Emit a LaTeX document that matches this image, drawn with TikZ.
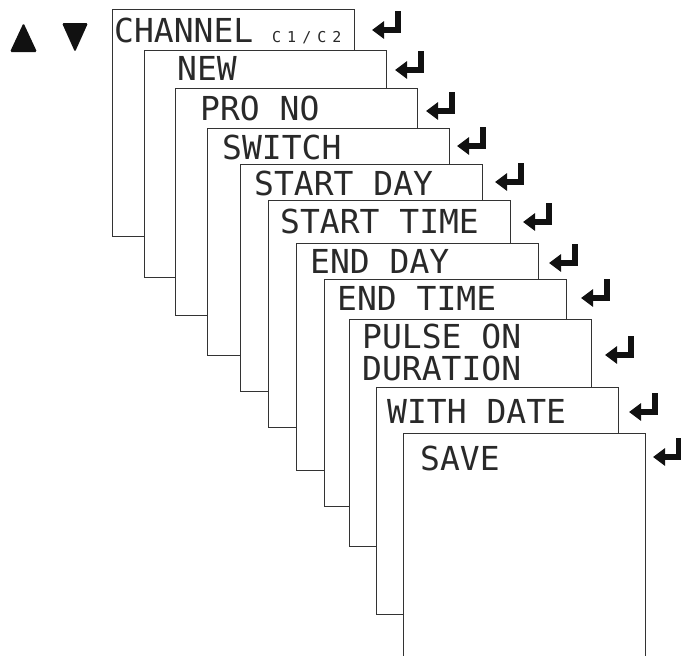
\documentclass[tikz,border=0pt]{standalone}
\usepackage{fontspec}
\usetikzlibrary{arrows.meta}
\newfontfamily\lcdfont{DejaVu Sans Mono}
\definecolor{frame}{HTML}{333333}
\definecolor{ink}{HTML}{111111}
\tikzset{
  panel/.style={draw=frame, line width=1.3pt, fill=white, anchor=north west, minimum width=242pt, minimum height=227pt, inner sep=0pt},
  lcd/.style={anchor=base west, inner sep=0pt, text=ink!90, font=\lcdfont\fontsize{33}{32}\selectfont},
  lcdsmall/.style={lcd, font=\lcdfont\fontsize{15}{15}\selectfont\addfontfeature{LetterSpace=40}},
  enterarrow/.pic={
    \draw[ink, line width=5.5pt, line join=miter, -{Triangle[length=12pt, width=17pt]}] (11,-14) -- (11,5) -- (-15,5);
  }
}

\begin{document}
\begin{tikzpicture}[x=1pt, y=-1pt]
  \useasboundingbox (0,0) rectangle (681,656);
  \fill[ink, rounded corners=1.5pt] (10,52) -- (23.5,23) -- (37,52) -- cycle;
  \fill[ink, rounded corners=1.5pt] (62,23) -- (88,23) -- (75,52) -- cycle;

  \node[panel] (channel) at (112,9) {};
  \node[lcd] (channeltxt) at (114,42) {CHANNEL};
  \node[lcdsmall] (channelsub) at (272,42) {C1/C2};
  \node[panel] (new) at (144,50) {};
  \node[lcd] (newtxt) at (177,80) {NEW};
  \node[panel] (prono) at (175,88) {};
  \node[lcd] (pronotxt) at (200,120) {PRO NO};
  \node[panel] (switch) at (207,128) {};
  \node[lcd] (switchtxt) at (222,159) {SWITCH};
  \node[panel] (startday) at (240,164) {};
  \node[lcd] (startdaytxt) at (254,195) {START DAY};
  \node[panel] (starttime) at (268,200) {};
  \node[lcd] (starttimetxt) at (280,233) {START TIME};
  \node[panel] (endday) at (296,243) {};
  \node[lcd] (enddaytxt) at (310,273) {END DAY};
  \node[panel] (endtime) at (324,279) {};
  \node[lcd] (endtimetxt) at (337,310) {END TIME};
  \node[panel] (pulse) at (349,319) {};
  \node[lcd] (pulsetxt) at (362,348) {PULSE ON};
  \node[lcd] (durationtxt) at (362,380) {DURATION};
  \node[panel] (withdate) at (376,387) {};
  \node[lcd] (withdatetxt) at (387,423) {WITH DATE};
  \node[panel] (save) at (403,433) {};
  \node[lcd] (savetxt) at (420,470) {SAVE};

  \foreach \ax/\ay in {387/25, 410/65, 441/106, 472/141, 510/177, 538/217, 564/258, 596/293, 620/350, 644/407, 668/452}
    \pic at (\ax,\ay) {enterarrow};
\end{tikzpicture}
\end{document}
